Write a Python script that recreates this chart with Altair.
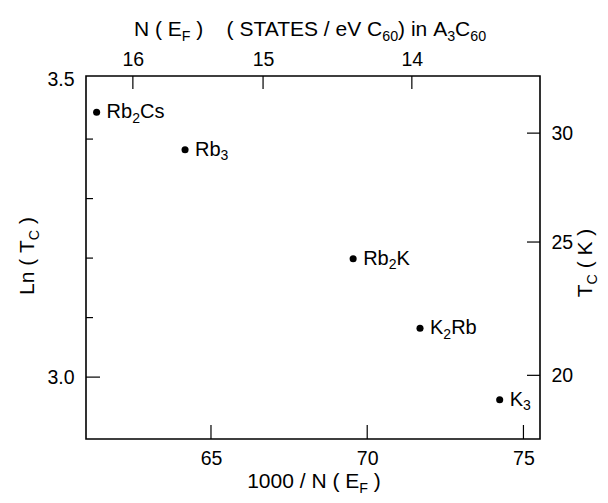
import re
import altair as alt
import pandas as pd

# ---------------- data ----------------
compounds = ["Rb_{2}Cs", "Rb_{3}", "Rb_{2}K", "K_{2}Rb", "K_{3}"]
inv_nef = [61.34, 64.17, 69.55, 71.69, 74.24]      # 1000 / N(E_F)
ln_tc = [3.445, 3.382, 3.199, 3.082, 2.962]         # Ln(Tc)

x_ticks = [65, 70, 75]
y_label_ticks = [3.0, 3.5]
y_major_ticks = [3.0]
y_minor_ticks = [3.1, 3.2, 3.3, 3.4]
top_tick_labels = [16, 15, 14]                 # N(E_F) states / eV C60
right_tick_labels = [20, 25, 30]               # Tc (K)
right_tick_pos = [3.003, 3.227, 3.410]         # where they sit on the Ln(Tc) scale

x_domain = [61.0, 75.53]
y_domain = [2.896, 3.506]

title_top = "N ( E_{F} )    ( STATES / eV C_{60}) in A_{3}C_{60}"
title_bottom = "1000 / N ( E_{F} )"
title_left = "Ln ( T_{C} )"
title_right = "T_{C} ( K )"

# ---------------- layout / style ----------------
W, H = 454, 363
FONT = "Liberation Sans"
TITLE_SIZE = 21
LABEL_SIZE = 20
TICK_SIZE = 19.5
SUB_RATIO = 0.68

ARIAL = {' ': 278, '(': 333, ')': 333, '/': 278, '.': 278,
         'A': 667, 'C': 722, 'E': 667, 'F': 611, 'K': 667, 'L': 556, 'N': 722,
         'R': 722, 'S': 667, 'T': 611, 'V': 667,
         'b': 556, 'e': 556, 'i': 222, 'n': 556, 's': 500}
KERN = {'AT': -74, 'TA': -74, 'AV': -74, 'VA': -74}


def text_width(t, size):
    w = sum(ARIAL.get(c, 556) for c in t)
    w += sum(KERN.get(t[i:i + 2], 0) for i in range(len(t) - 1))
    return w * size / 1000.0


def parse(markup):
    parts = re.split(r"_\{([^}]*)\}", markup)
    segs = []
    for i, p in enumerate(parts):
        if p:
            segs.append((p, i % 2 == 1))
    return segs


def nb(t):
    return t.replace(" ", "\u00a0")


xs = alt.Scale(domain=x_domain, nice=False, zero=False)
ys = alt.Scale(domain=y_domain, nice=False, zero=False)

df = pd.DataFrame({"x": inv_nef, "y": ln_tc, "compound": compounds})

axis_common = dict(title=None, ticks=False, tickSize=0, domain=False, grid=False,
                   labelFontSize=TICK_SIZE, labelFont=FONT, labelColor="black",
                   labelFlush=False, labelOverlap=False)

layers = []

# points with bottom / left axes
layers.append(
    alt.Chart(df).mark_circle(size=50, color="black", opacity=1).encode(
        x=alt.X("x:Q", scale=xs,
                axis=alt.Axis(values=x_ticks, orient="bottom", labelPadding=10, **axis_common)),
        y=alt.Y("y:Q", scale=ys,
                axis=alt.Axis(values=y_label_ticks, format=".1f", orient="left",
                              labelPadding=12, **axis_common)),
    )
)

# top / right axes
top_pos = [1000.0 / n for n in top_tick_labels]
right_expr = "''"
for p, l in zip(right_tick_pos, right_tick_labels):
    right_expr = f"abs(datum.value - {p}) < 0.001 ? '{l}' : " + right_expr
axdf = pd.DataFrame({"x": top_pos, "y": right_tick_pos})
layers.append(
    alt.Chart(axdf).mark_point(opacity=0).encode(
        x=alt.X("x:Q", scale=xs,
                axis=alt.Axis(values=top_pos, orient="top", labelPadding=7,
                              labelExpr="format(1000 / datum.value, '.0f')", **axis_common)),
        y=alt.Y("y:Q", scale=ys,
                axis=alt.Axis(values=right_tick_pos, orient="right", labelPadding=11,
                              labelExpr=right_expr, **axis_common)),
    )
)

# inward tick marks
rule_style = dict(color="black", strokeWidth=1.2)
layers.append(alt.Chart(pd.DataFrame({"x": x_ticks})).mark_rule(**rule_style).encode(
    x=alt.X("x:Q", scale=xs, axis=None), y=alt.value(H), y2=alt.value(H - 14)))
layers.append(alt.Chart(pd.DataFrame({"x": top_pos})).mark_rule(**rule_style).encode(
    x=alt.X("x:Q", scale=xs, axis=None), y=alt.value(0), y2=alt.value(13)))
layers.append(alt.Chart(pd.DataFrame({"y": y_major_ticks})).mark_rule(**rule_style).encode(
    y=alt.Y("y:Q", scale=ys, axis=None), x=alt.value(0), x2=alt.value(14)))
layers.append(alt.Chart(pd.DataFrame({"y": y_minor_ticks})).mark_rule(**rule_style).encode(
    y=alt.Y("y:Q", scale=ys, axis=None), x=alt.value(0), x2=alt.value(7)))
layers.append(alt.Chart(pd.DataFrame({"y": right_tick_pos})).mark_rule(**rule_style).encode(
    y=alt.Y("y:Q", scale=ys, axis=None), x=alt.value(W), x2=alt.value(W - 13)))

# point labels with subscripts
for i, lab in enumerate(compounds):
    row = df.iloc[[i]]
    pos = 10.0
    for t, sub in parse(lab):
        size = LABEL_SIZE * (0.7 if sub else 1.0)
        layers.append(
            alt.Chart(row).mark_text(align="left", baseline="middle", dx=pos,
                                     dy=6.5 if sub else 0, fontSize=size, font=FONT,
                                     color="black").encode(
                x=alt.X("x:Q", scale=xs, axis=None),
                y=alt.Y("y:Q", scale=ys, axis=None),
                text=alt.value(nb(t)),
            )
        )
        pos += text_width(t, size)


# axis titles with subscripts (leading / trailing blanks are advanced over, not drawn)
def title_layers(markup, cx, cy, angle=0):
    segs = parse(markup)
    sizes = [TITLE_SIZE * (SUB_RATIO if s else 1.0) for _, s in segs]
    widths = [text_width(t, sz) for (t, _), sz in zip(segs, sizes)]
    pos = -sum(widths) / 2.0
    out = []
    for (t, sub), sz, w in zip(segs, sizes, widths):
        lead = len(t) - len(t.lstrip(" "))
        shown = t.strip(" ")
        start = pos + text_width(" " * lead, sz)
        if angle == 0:
            px, py = cx + start, cy
        else:
            px, py = cx, cy - start
        kw = dict(align="left", baseline="alphabetic", fontSize=sz, font=FONT,
                  color="black", dy=5 if sub else 0)
        if angle:
            kw["angle"] = angle
        if shown:
            out.append(
                alt.Chart(pd.DataFrame({"k": [0]})).mark_text(**kw).encode(
                    x=alt.value(px), y=alt.value(py), text=alt.value(nb(shown)))
            )
        pos += w
    return out


layers += title_layers(title_top, 224, -40)
layers += title_layers(title_bottom, 228, 412)
layers += title_layers(title_left, -52, 180, angle=270)
layers += title_layers(title_right, 506, 187, angle=270)

chart = (
    alt.layer(*layers)
    .resolve_scale(x="independent", y="independent")
    .properties(width=W, height=H,
                autosize=alt.AutoSizeParams(type="none"),
                padding={"left": 78, "top": 68, "right": 60, "bottom": 56},
                background="white")
    .configure_view(stroke="black", strokeWidth=1.6)
)

chart.save("out.html", embed_options={"renderer": "svg", "actions": False})
